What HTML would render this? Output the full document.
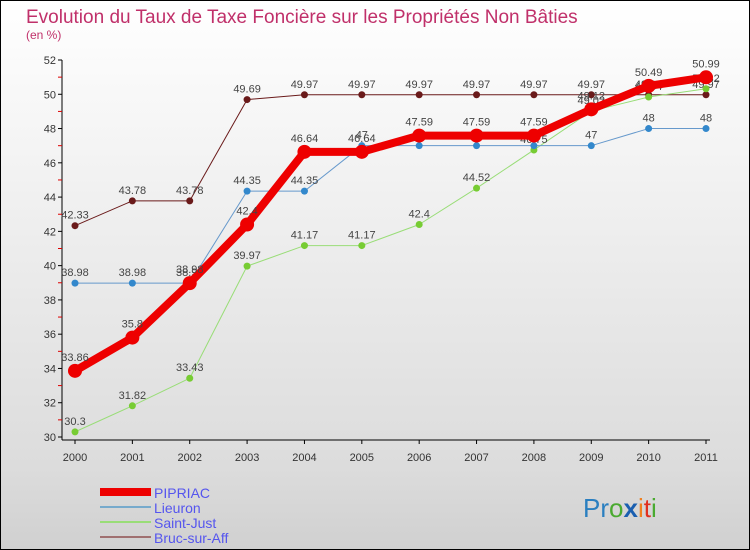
<!DOCTYPE html>
<html><head><meta charset="utf-8"><style>
body{margin:0}
#c{width:750px;height:550px;position:relative;overflow:hidden;font-family:"Liberation Sans",sans-serif}
</style></head><body>
<div id="c">
<svg id="s" width="750" height="550" xmlns="http://www.w3.org/2000/svg">
<defs><linearGradient id="bg" x1="0" y1="0" x2="0" y2="1">
<stop offset="0" stop-color="#ffffff"/><stop offset="0.85" stop-color="#dcdcdc"/><stop offset="1" stop-color="#d0d0d0"/></linearGradient></defs>
<rect x="0" y="0" width="750" height="550" fill="url(#bg)" stroke="#000" stroke-width="2"/>
<text x="26" y="23" font-size="19" fill="#c0306a">Evolution du Taux de Taxe Foncière sur les Propriétés Non Bâties</text>
<text x="26" y="39" font-size="12" fill="#c0306a">(en %)</text>
<g id="axes"></g><g id="series"></g><g id="legend"></g>
<text x="583" y="517" font-size="26"><tspan fill="#2a7fc0">Pr</tspan><tspan fill="#4aaa30">o</tspan><tspan fill="#1a5fb0" font-weight="bold">x</tspan><tspan fill="#f08020">i</tspan><tspan fill="#e03020">t</tspan><tspan fill="#4aaa30">i</tspan></text>
</svg></div>
<script>
const years=[2000,2001,2002,2003,2004,2005,2006,2007,2008,2009,2010,2011];
const yTicks=[30,32,34,36,38,40,42,44,46,48,50,52];
const pipriac=[33.86,35.8,38.98,42.4,46.64,46.64,47.59,47.59,47.59,49.12,50.49,50.99];
const lieuron=[38.98,38.98,38.98,44.35,44.35,47,47,47,47,47,48,48];
const saintJust=[30.3,31.82,33.43,39.97,41.17,41.17,42.4,44.52,46.75,49.02,49.84,50.32];
const bruc=[42.33,43.78,43.78,49.69,49.97,49.97,49.97,49.97,49.97,49.97,49.97,49.97];
const NS="http://www.w3.org/2000/svg";
const X=i=>75+i*(706-75)/11;
const Y=v=>437-(v-30)*(437-60)/22;
function mk(t,a,p){const e=document.createElementNS(NS,t);for(const k in a)e.setAttribute(k,a[k]);(p||document.getElementById('series')).appendChild(e);return e;}
const ax=document.getElementById('axes');
let l=mk('line',{x1:62,y1:60,x2:62,y2:440,stroke:'#000','stroke-width':1},ax);


l=mk('line',{x1:62,y1:440,x2:710,y2:440,stroke:'#000','stroke-width':1},ax);


yTicks.forEach(v=>{const y=Y(v);
mk('line',{x1:58,y1:y,x2:62,y2:y,stroke:'#000'},ax);
mk('line',{x1:58,y1:Y(v+1),x2:62,y2:Y(v+1),stroke:v<52?'#d00':'none'},ax);
const t=mk('text',{x:56,y:y+4,'text-anchor':'end','font-size':11,fill:'#333'},ax);t.textContent=v;

});
years.forEach((yr,i)=>{const x=X(i);mk('line',{x1:x,y1:440,x2:x,y2:444,stroke:'#000'},ax);
const t=mk('text',{x:x,y:461,'text-anchor':'middle','font-size':11,fill:'#333'},ax);t.textContent=yr;

});
const series=[
{n:'bruc-sur-aff',d:bruc,c:'#6a1a1a',w:1,r:3.5,f:'#6a1a1a',lab:'Bruc-sur-Aff',lc:'#a07070'},
{n:'saint-just',d:saintJust,c:'#99dd77',w:1,r:3.5,f:'#77cc33',lab:'Saint-Just',lc:'#99dd77'},
{n:'lieuron',d:lieuron,c:'#6699cc',w:1,r:3.5,f:'#3388cc',lab:'Lieuron',lc:'#77aacc'},
{n:'pipriac',d:pipriac,c:'#ee0000',w:8,r:7,f:'#ee0000',lab:'PIPRIAC',lc:'#ee0000'}];
series.forEach(s=>{
const g=mk('g',{});


const p=mk('polyline',{points:s.d.map((v,i)=>X(i)+','+Y(v)).join(' '),fill:'none',stroke:s.c,'stroke-width':s.w,'stroke-linejoin':'round'},g);


s.d.forEach((v,i)=>{const c=mk('circle',{cx:X(i),cy:Y(v),r:s.r,fill:s.f},g);


const t=mk('text',{x:X(i),y:Y(v)-(s.w>2?10:7),'text-anchor':'middle','font-size':11,fill:'#444'},g);t.textContent=v;

});
});
const lg=document.getElementById('legend');
series.slice().reverse().forEach((s,i)=>{const y=492+i*15;
mk('line',{x1:100,y1:y,x2:151,y2:y,stroke:s.lc,'stroke-width':s.w>2?8:2},lg);
const t=mk('text',{x:154,y:y+6,'font-size':14,fill:'#5555ee'},lg);t.textContent=s.lab;

});
</script>
</body></html>
